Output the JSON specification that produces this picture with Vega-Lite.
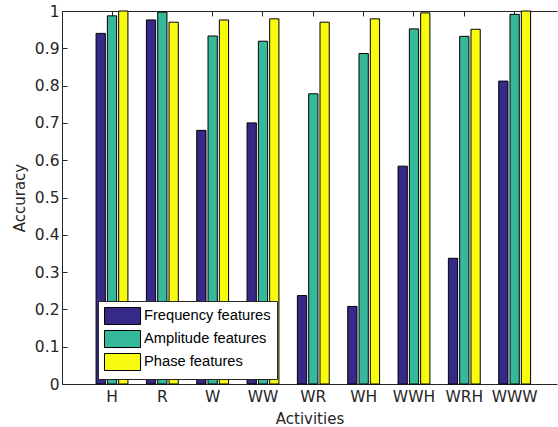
{
  "$schema": "https://vega.github.io/schema/vega-lite/v6.json",
  "autosize": {"type": "none"},
  "padding": {"left": 62, "top": 11, "right": 1, "bottom": 43},
  "width": 495,
  "height": 373,
  "background": "white",
  "config": {
    "view": {"stroke": null},
    "font": "DejaVu Sans",
    "axis": {
      "domainColor": "#262626",
      "tickColor": "#262626",
      "labelColor": "#262626",
      "titleColor": "#262626",
      "labelFont": "DejaVu Sans",
      "titleFont": "DejaVu Sans",
      "labelFontSize": 15.5,
      "titleFontSize": 15,
      "titleFontWeight": "normal",
      "grid": false,
      "domainWidth": 1,
      "tickWidth": 1
    }
  },
  "data": {
    "values": [
      {"activity": "H", "feature": "Frequency features", "accuracy": 0.940},
      {"activity": "H", "feature": "Amplitude features", "accuracy": 0.987},
      {"activity": "H", "feature": "Phase features", "accuracy": 1.000},
      {"activity": "R", "feature": "Frequency features", "accuracy": 0.976},
      {"activity": "R", "feature": "Amplitude features", "accuracy": 0.997},
      {"activity": "R", "feature": "Phase features", "accuracy": 0.970},
      {"activity": "W", "feature": "Frequency features", "accuracy": 0.680},
      {"activity": "W", "feature": "Amplitude features", "accuracy": 0.933},
      {"activity": "W", "feature": "Phase features", "accuracy": 0.976},
      {"activity": "WW", "feature": "Frequency features", "accuracy": 0.700},
      {"activity": "WW", "feature": "Amplitude features", "accuracy": 0.919},
      {"activity": "WW", "feature": "Phase features", "accuracy": 0.979},
      {"activity": "WR", "feature": "Frequency features", "accuracy": 0.237},
      {"activity": "WR", "feature": "Amplitude features", "accuracy": 0.778},
      {"activity": "WR", "feature": "Phase features", "accuracy": 0.970},
      {"activity": "WH", "feature": "Frequency features", "accuracy": 0.208},
      {"activity": "WH", "feature": "Amplitude features", "accuracy": 0.886},
      {"activity": "WH", "feature": "Phase features", "accuracy": 0.979},
      {"activity": "WWH", "feature": "Frequency features", "accuracy": 0.584},
      {"activity": "WWH", "feature": "Amplitude features", "accuracy": 0.952},
      {"activity": "WWH", "feature": "Phase features", "accuracy": 0.995},
      {"activity": "WRH", "feature": "Frequency features", "accuracy": 0.337},
      {"activity": "WRH", "feature": "Amplitude features", "accuracy": 0.932},
      {"activity": "WRH", "feature": "Phase features", "accuracy": 0.951},
      {"activity": "WWW", "feature": "Frequency features", "accuracy": 0.812},
      {"activity": "WWW", "feature": "Amplitude features", "accuracy": 0.991},
      {"activity": "WWW", "feature": "Phase features", "accuracy": 1.000}
    ]
  },
  "layer": [
    {
      "mark": {"type": "bar", "stroke": "#000000", "strokeWidth": 1, "opacity": 1},
      "encoding": {
        "x": {
          "field": "activity",
          "type": "nominal",
          "sort": ["H", "R", "W", "WW", "WR", "WH", "WWH", "WRH", "WWW"],
          "scale": {"paddingInner": 0, "paddingOuter": 0.4175, "align": 0.591},
          "axis": {
            "orient": "bottom",
            "title": "Activities",
            "labelAngle": 0,
            "tickSize": -5,
            "labelPadding": 10,
            "titlePadding": 7
          }
        },
        "xOffset": {
          "field": "feature",
          "type": "nominal",
          "sort": ["Frequency features", "Amplitude features", "Phase features"],
          "scale": {"paddingInner": 0.18, "paddingOuter": 0.817}
        },
        "y": {
          "field": "accuracy",
          "type": "quantitative",
          "scale": {"domain": [0, 1], "nice": false, "zero": true},
          "axis": {
            "title": "Accuracy",
            "values": [0, 0.1, 0.2, 0.3, 0.4, 0.5, 0.6, 0.7, 0.8, 0.9, 1],
            "format": "~g",
            "labelOverlap": false,
            "tickSize": -5,
            "labelPadding": 8,
            "titlePadding": 7
          }
        },
        "color": {
          "field": "feature",
          "type": "nominal",
          "sort": ["Frequency features", "Amplitude features", "Phase features"],
          "scale": {
            "domain": ["Frequency features", "Amplitude features", "Phase features"],
            "range": ["#352A87", "#36B99B", "#F9FB0E"]
          },
          "legend": {
            "title": null,
            "orient": "none",
            "legendX": 36,
            "legendY": 290,
            "padding": 6,
            "fillColor": "white",
            "strokeColor": "#262626",
            "symbolType": "M-1,-1H3.24V1H-1Z",
            "symbolSize": 289,
            "symbolStrokeColor": "#000000",
            "symbolStrokeWidth": 1,
            "symbolOpacity": 1,
            "labelFont": "Liberation Sans",
            "labelFontSize": 14.7,
            "labelColor": "#000000",
            "labelOffset": 22,
            "rowPadding": 1
          }
        }
      }
    },
    {
      "mark": {"type": "bar", "opacity": 0},
      "encoding": {
        "x": {
          "field": "activity",
          "type": "nominal",
          "sort": ["H", "R", "W", "WW", "WR", "WH", "WWH", "WRH", "WWW"],
          "axis": {
            "orient": "top",
            "title": null,
            "labels": false,
            "tickSize": -5
          }
        }
      }
    }
  ]
}
